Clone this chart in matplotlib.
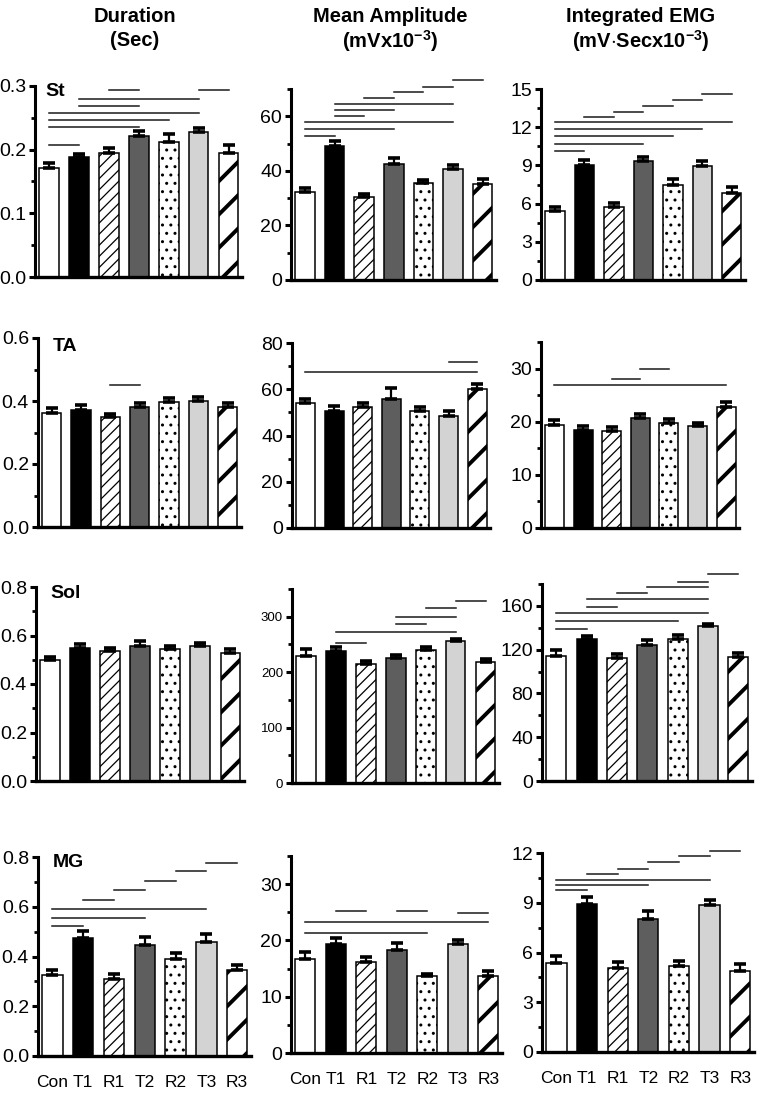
import matplotlib
matplotlib.use('Agg')
import matplotlib.pyplot as plt
from matplotlib import font_manager
from matplotlib.ticker import MultipleLocator, FormatStrFormatter
import numpy as np

groups = ['Con', 'T1', 'R1', 'T2', 'R2', 'T3', 'R3']
muscles = ['St', 'TA', 'Sol', 'MG']

# Duration (Sec)
st_dur = [0.171, 0.188, 0.195, 0.222, 0.212, 0.227, 0.194]
st_dur_sem = [0.008, 0.005, 0.008, 0.008, 0.013, 0.007, 0.013]
st_dur_sig = [(2, 3, 0.294), (5, 6, 0.294), (1, 5, 0.280), (1, 3, 0.269),
              (0, 5, 0.257), (0, 4, 0.246), (0, 3, 0.235), (0, 1, 0.2075)]
ta_dur = [0.361, 0.372, 0.350, 0.381, 0.397, 0.401, 0.381]
ta_dur_sem = [0.018, 0.015, 0.010, 0.013, 0.011, 0.012, 0.013]
ta_dur_sig = [(2, 3, 0.451)]
sol_dur = [0.498, 0.548, 0.535, 0.558, 0.544, 0.555, 0.528]
sol_dur_sem = [0.012, 0.017, 0.012, 0.019, 0.011, 0.013, 0.015]
sol_dur_sig = []
mg_dur = [0.326, 0.474, 0.309, 0.446, 0.389, 0.460, 0.346]
mg_dur_sem = [0.018, 0.029, 0.021, 0.032, 0.027, 0.031, 0.018]
mg_dur_sig = [(5, 6, 0.776), (4, 5, 0.742), (3, 4, 0.705), (2, 3, 0.666),
              (1, 2, 0.626), (0, 5, 0.592), (0, 3, 0.554), (0, 1, 0.523)]

# Mean amplitude (mV x 10^-3)
st_amp = [32.1, 49.0, 30.5, 42.6, 35.4, 40.5, 35.3]
st_amp_sem = [1.8, 2.1, 1.1, 2.0, 1.3, 1.7, 1.8]
st_amp_sig = [(5, 6, 73.2), (4, 5, 70.8), (3, 4, 68.8), (2, 3, 66.6), (1, 5, 64.4),
              (1, 3, 62.2), (1, 2, 60.0), (0, 5, 58.0), (0, 3, 55.3), (0, 1, 52.9)]
ta_amp = [54.2, 50.6, 52.2, 56.0, 50.6, 48.6, 60.2]
ta_amp_sem = [1.7, 2.1, 1.7, 4.6, 1.8, 2.0, 2.2]
ta_amp_sig = [(5, 6, 71.6), (0, 6, 67.5)]
sol_amp = [230, 238.6, 214.5, 224.7, 239.8, 256, 217.5]
sol_amp_sem = [11, 7.2, 5.5, 6, 5.4, 4, 6]
sol_amp_sig = [(5, 6, 328), (4, 5, 315), (3, 5, 300), (3, 4, 286), (1, 5, 273), (1, 2, 253)]
mg_amp = [16.7, 19.4, 16.2, 18.3, 13.6, 19.4, 13.6]
mg_amp_sem = [1.3, 1.0, 0.8, 1.2, 0.5, 0.7, 0.9]
mg_amp_sig = [(1, 2, 25.2), (3, 4, 25.2), (5, 6, 24.8), (0, 6, 23.2), (0, 4, 21.4)]

# Integrated EMG (mV.Sec x 10^-3)
st_iemg = [5.43, 9.05, 5.77, 9.34, 7.45, 8.97, 6.82]
st_iemg_sem = [0.31, 0.37, 0.26, 0.34, 0.47, 0.37, 0.50]
st_iemg_sig = [(5, 6, 14.61), (4, 5, 14.16), (3, 4, 13.69), (2, 3, 13.22), (1, 2, 12.82),
               (0, 6, 12.43), (0, 5, 11.85), (0, 4, 11.30), (0, 3, 10.70), (0, 1, 10.12)]
ta_iemg = [19.3, 18.4, 18.3, 20.7, 19.8, 19.1, 22.8]
ta_iemg_sem = [1.0, 0.7, 0.7, 0.8, 0.7, 0.7, 0.9]
ta_iemg_sig = [(3, 4, 30.0), (2, 3, 28.1), (0, 6, 27.0)]
sol_iemg = [114.2, 129.5, 112.4, 124.6, 130.1, 141.4, 113.3]
sol_iemg_sem = [5.5, 3.3, 3.6, 3.9, 3.3, 1.8, 4.0]
sol_iemg_sig = [(5, 6, 189), (4, 5, 181.7), (3, 5, 177.1), (2, 3, 171.6), (1, 5, 166.1),
                (1, 2, 159.4), (0, 5, 153.9), (0, 4, 146.3), (0, 1, 139.2)]
mg_iemg = [5.37, 8.94, 5.05, 8.0, 5.21, 8.86, 4.86]
mg_iemg_sem = [0.40, 0.41, 0.38, 0.48, 0.28, 0.33, 0.45]
mg_iemg_sig = [(5, 6, 12.10), (4, 5, 11.84), (3, 4, 11.48), (2, 3, 11.04), (1, 2, 10.73),
               (0, 5, 10.39), (0, 3, 10.05), (0, 1, 9.75)]

# bar look per group: facecolor, hatch, hatch linewidth
faces = ['white', 'black', 'white', '#5e5e5e', 'white', '#d3d3d3', 'white']
hatches = [None, None, '///', None, '..', None, '/']
hatch_lw = [1.0, 1.0, 0.9, 1.0, 1.0, 1.0, 2.8]

names = {f.name for f in font_manager.fontManager.ttflist}
tickfont = 'Liberation Sans Narrow' if 'Liberation Sans Narrow' in names else 'Liberation Sans'
plt.rcParams['font.family'] = ['Liberation Sans', 'DejaVu Sans']
plt.rcParams['mathtext.fontset'] = 'custom'
plt.rcParams['mathtext.rm'] = 'Liberation Sans'
plt.rcParams['mathtext.bf'] = 'Liberation Sans:bold'

W, H = 761, 1094
fig = plt.figure(figsize=(W / 100, H / 100), dpi=100)

# (means, sem, sig, ymax, major, minor, fmt, ticksize)
rows = [
    [(st_dur, st_dur_sem, st_dur_sig, 0.3, 0.1, 0.05, '%.1f', 14),
     (st_amp, st_amp_sem, st_amp_sig, 70, 20, 10, '%d', 14),
     (st_iemg, st_iemg_sem, st_iemg_sig, 15, 3, 1.5, '%d', 14)],
    [(ta_dur, ta_dur_sem, ta_dur_sig, 0.6, 0.2, 0.1, '%.1f', 14),
     (ta_amp, ta_amp_sem, ta_amp_sig, 80, 20, 10, '%d', 14),
     (ta_iemg, ta_iemg_sem, ta_iemg_sig, 35, 10, 5, '%d', 14)],
    [(sol_dur, sol_dur_sem, sol_dur_sig, 0.8, 0.2, 0.1, '%.1f', 14),
     (sol_amp, sol_amp_sem, sol_amp_sig, 350, 100, 50, '%d', 9.5),
     (sol_iemg, sol_iemg_sem, sol_iemg_sig, 180, 40, 20, '%d', 14)],
    [(mg_dur, mg_dur_sem, mg_dur_sig, 0.8, 0.2, 0.1, '%.1f', 14),
     (mg_amp, mg_amp_sem, mg_amp_sig, 35, 10, 5, '%d', 14),
     (mg_iemg, mg_iemg_sem, mg_iemg_sig, 12, 3, 1.5, '%d', 14)],
]

# axes boxes in pixels: left, right, top (y of ymax), bottom (y of 0)
boxes = [
    [(35, 242, 86, 277), (291, 496, 89, 280), (541, 745, 89, 280)],
    [(38, 241, 338, 527), (292, 490, 343, 528), (541, 739, 342, 528)],
    [(36, 244, 587, 781), (292, 499, 589, 783), (542, 752, 584, 781)],
    [(38, 251, 857, 1056), (291, 502, 856, 1053), (542, 754, 853, 1052)],
]
label_pos = [(45, 96), (53, 351), (50, 598), (53, 867)]

x = np.arange(len(groups))
for r, row in enumerate(rows):
    for c, (means, sem, sig, ymax, major, minor, fmt, tsz) in enumerate(row):
        l, rt, t, b = boxes[r][c]
        ax = fig.add_axes([l / W, 1 - b / H, (rt - l) / W, (b - t) / H])
        bars = ax.bar(x, means, width=0.66, color=faces, edgecolor='black',
                      linewidth=1.1, zorder=2)
        for p, h, hl in zip(bars, hatches, hatch_lw):
            if h:
                p.set_hatch(h)
                if hasattr(p, 'set_hatch_linewidth'):
                    p.set_hatch_linewidth(hl)
        ax.errorbar(x, means, yerr=[np.zeros(len(x)), sem], fmt='none', ecolor='black',
                    elinewidth=1.6, capsize=4.5, capthick=2.6, zorder=3)
        for i0, i1, yy in sig:
            ax.plot([x[i0], x[i1]], [yy, yy], color='#1a1a1a', lw=1.1, clip_on=False)
        ax.set_xlim(-0.47, 6.45)
        ax.set_ylim(0, ymax)
        ax.spines['top'].set_visible(False)
        ax.spines['right'].set_visible(False)
        ax.spines['left'].set_linewidth(2.2)
        ax.spines['bottom'].set_linewidth(2.4)
        ax.yaxis.set_major_locator(MultipleLocator(major))
        ax.yaxis.set_minor_locator(MultipleLocator(minor))
        ax.yaxis.set_major_formatter(FormatStrFormatter(fmt))
        ax.tick_params(axis='y', which='major', length=4, width=2.2, pad=2.5,
                       labelsize=tsz)
        ax.tick_params(axis='y', which='minor', length=3, width=2.0)
        for lab in ax.get_yticklabels():
            lab.set_fontfamily(tickfont)
        ax.set_xticks(x)
        if r == len(rows) - 1:
            ax.set_xticklabels(groups, fontsize=12.5, fontfamily=tickfont)
            ax.tick_params(axis='x', length=0, pad=14)
        else:
            ax.set_xticklabels([])
            ax.tick_params(axis='x', length=0)
        ax.patch.set_alpha(0)
    lx, ly = label_pos[r]
    fig.text(lx / W, 1 - ly / H, muscles[r], fontsize=14, fontweight='bold',
             va='baseline', ha='left')

titles = [(135, 'Duration', '(Sec)'),
          (390, 'Mean Amplitude', r'(mVx10$^{\mathbf{-3}}$)'),
          (641, 'Integrated EMG', r'(mV$\cdot$Secx10$^{\mathbf{-3}}$)')]
for cx, t1, t2 in titles:
    fig.text(cx / W, 1 - 17 / H, t1, fontsize=14.5, fontweight='bold', ha='center', va='center')
    fig.text(cx / W, 1 - 41 / H, t2, fontsize=14.5, fontweight='bold', ha='center', va='center')

fig.savefig('out.png', dpi=100)
